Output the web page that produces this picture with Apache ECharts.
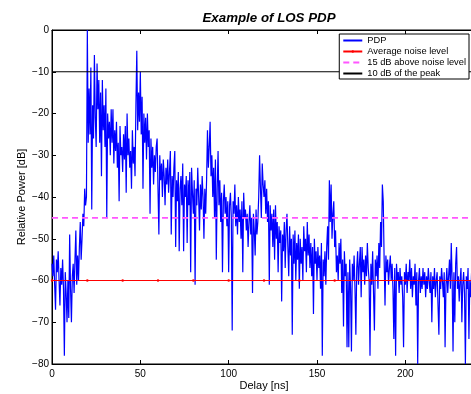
<!DOCTYPE html>
<html>
<head>
<meta charset="utf-8">
<script src="https://cdn.jsdelivr.net/npm/echarts@6/dist/echarts.min.js"></script>
<style>
  html, body { margin: 0; padding: 0; background: #fff; }
  #main { width: 471px; height: 394px; }
</style>
</head>
<body>
<div id="main"></div>
<script>
  // PDP samples every 0.5 ns starting at 0 ns, one row = 10 ns
  var stepNs = 0.5;
  var pdpDb = [
    -56, -59, -54, -61, -67, -55, -58, -53, -60, -66, -57, -61, -55, -62, -78, -58, -63, -70, -60, -69,
    -49, -62, -70, -59, -56, -63, -55, -48, -61, -54, -60, -52, -46, -55, -50, -44, -47, -38, -42, -40,
    0, -27, -14, -25, -9, -43, -18, -26, -6, -21, -28, -8, -19, -12, -27, -15, -35, -12, -24, -18,
    -28, -14, -45, -20, -26, -22, -30, -19, -27, -19, -32, -24, -29, -22, -33, -27, -41, -23, -30, -28,
    -34, -25, -31, -23, -39, -20, -30, -26, -33, -29, -38, -24, -32, -28, -35, -18, -5, -24, -15, -22,
    -10, -25, -16, -38, -20, -27, -21, -31, -20, -28, -24, -44, -26, -33, -28, -37, -30, -34, -28, -26,
    -38, -49, -30, -36, -32, -40, -31, -35, -42, -33, -37, -31, -39, -34, -29, -49, -35, -40, -33, -29,
    -52, -36, -41, -34, -53, -38, -35, -42, -32, -53, -37, -40, -35, -51, -36, -42, -34, -58, -33, -39,
    -44, -36, -61, -38, -42, -33, -40, -48, -37, -43, -35, -40, -50, -38, -44, -36, -24, -33, -28, -22,
    -35, -30, -40, -33, -45, -31, -55, -38, -29, -42, -36, -46, -39, -58, -41, -37, -44, -40, -47, -41,
    -58, -42, -39, -45, -72, -41, -44, -37, -47, -42, -49, -40, -46, -43, -50, -41, -58, -39, -45, -43,
    -48, -44, -52, -46, -42, -49, -45, -63, -44, -48, -54, -43, -49, -46, -40, -30, -38, -45, -32, -37,
    -40, -36, -44, -38, -46, -41, -61, -42, -48, -44, -52, -43, -55, -42, -50, -46, -58, -47, -51, -48,
    -65, -49, -53, -46, -57, -48, -44, -52, -59, -47, -54, -50, -73, -49, -56, -48, -60, -51, -55, -49,
    -62, -50, -56, -52, -60, -47, -53, -50, -58, -46, -54, -49, -57, -51, -59, -52, -68, -50, -56, -53,
    -60, -52, -57, -54, -62, -51, -78, -55, -59, -53, -61, -52, -47, -55, -36, -46, -37, -50, -44, -41,
    -52, -48, -58, -54, -60, -51, -56, -50, -63, -55, -71, -53, -59, -56, -76, -58, -76, -55, -62, -77,
    -56, -60, -54, -62, -73, -57, -53, -61, -56, -52, -64, -52, -58, -55, -61, -54, -59, -51, -57, -60,
    -78, -56, -61, -53, -63, -72, -55, -59, -54, -62, -51, -57, -46, -52, -37, -41, -55, -66, -54, -58,
    -55, -61, -57, -54, -60, -56, -62, -74, -57, -78, -56, -60, -58, -63, -57, -61, -59, -64, -76, -58,
    -61, -56, -63, -58, -60, -55, -62, -57, -64, -59, -61, -56, -66, -58, -80, -60, -57, -63, -59, -62,
    -57, -61, -58, -64, -59, -62, -57, -60, -63, -58, -70, -59, -62, -57, -64, -60, -58, -66, -73, -59,
    -62, -57, -60, -64, -58, -76, -61, -57, -63, -59, -55, -62, -51, -60, -77, -58, -70, -56, -52, -62,
    -59, -65, -60, -57, -70, -61, -58, -63, -80, -59, -62, -57, -74, -60, -64, -58, -61, -59, -62, -60,
    -60
  ];
  var noiseLevelDb = -60;
  var thresholdDb = -45;   // 15 dB above noise
  var peakRefDb = -10;     // 10 dB below the peak
  var noiseMarkNs = [0, 20, 40, 60, 80, 100, 120, 140, 160, 180, 200, 220, 240];
  var lineEndsNs = [0, 240];
  var yTicks = [-80, -70, -60, -50, -40, -30, -20, -10, 0];

  var font = 'Liberation Sans, Arial, sans-serif';
  var chart = echarts.init(document.getElementById('main'));

  function flat(xs, y) {
    return xs.map(function (x) { return [x, y]; });
  }
  function minus(v) {
    return String(v).replace('-', '\u2212');
  }

  chart.setOption({
    animation: false,
    title: {
      text: 'Example of LOS PDP',
      left: 264, top: 7, textAlign: 'center',
      textStyle: {fontFamily: font, fontSize: 13.3, fontWeight: 'bold', fontStyle: 'italic', color: '#000'}
    },
    grid: {
      left: 52, top: 30, right: -5, bottom: 30, outerBoundsMode: 'none',
      show: true, borderColor: '#000', borderWidth: 1
    },
    legend: {
      right: 2, top: 34, orient: 'vertical',
      backgroundColor: '#fff', borderColor: '#000', borderWidth: 1,
      padding: [1, 3, 0, 3], itemGap: 0, itemWidth: 19, itemHeight: 3,
      itemStyle: {opacity: 0},
      textStyle: {fontFamily: font, fontSize: 9.3, color: '#000', lineHeight: 11},
      data: [
        'PDP',
        {name: 'Average noise level', itemStyle: {opacity: 1}},
        '15 dB above noise level',
        '10 dB of the peak'
      ]
    },
    xAxis: [{
      type: 'value', min: 0, max: 240, interval: 50,
      name: 'Delay [ns]', nameLocation: 'middle', nameGap: 16, nameMoveOverlap: false,
      nameTextStyle: {fontFamily: font, fontSize: 11, color: '#000'},
      axisLine: {onZero: false, lineStyle: {color: '#000'}},
      axisTick: {inside: true, length: 4, lineStyle: {color: '#000'}},
      axisLabel: {fontFamily: font, fontSize: 10, color: '#000', margin: 5, showMaxLabel: false},
      splitLine: {show: false}
    }, {
      type: 'value', min: 0, max: 240, interval: 50, position: 'top',
      axisLine: {onZero: false, lineStyle: {color: '#000'}},
      axisTick: {inside: true, length: 4, lineStyle: {color: '#000'}},
      axisLabel: {show: false}, splitLine: {show: false}
    }],
    yAxis: {
      type: 'value', min: yTicks[0], max: yTicks[yTicks.length - 1], interval: 10,
      name: 'Relative Power [dB]', nameLocation: 'middle', nameGap: 25, nameMoveOverlap: false,
      nameTextStyle: {fontFamily: font, fontSize: 11, color: '#000'},
      axisLine: {onZero: false, lineStyle: {color: '#000'}},
      axisTick: {inside: true, length: 4, lineStyle: {color: '#000'}},
      axisLabel: {fontFamily: font, fontSize: 10, color: '#000', margin: 3, formatter: minus},
      splitLine: {show: false}
    },
    series: [
      {
        name: 'PDP', type: 'line', showSymbol: false, symbol: 'none',
        color: '#0000ff', lineStyle: {color: '#0000ff', width: 1.2},
        data: pdpDb.map(function (v, i) { return [i * stepNs, v]; })
      },
      {
        name: 'Average noise level', type: 'line', symbol: 'circle', symbolSize: 2.5,
        color: '#ff0000', lineStyle: {color: '#ff0000', width: 1},
        data: flat(noiseMarkNs, noiseLevelDb)
      },
      {
        name: '15 dB above noise level', type: 'line', symbol: 'none',
        color: '#ff55ff', lineStyle: {color: '#ff55ff', width: 1.6, type: [6, 4]},
        data: flat(lineEndsNs, thresholdDb)
      },
      {
        name: '10 dB of the peak', type: 'line', symbol: 'none',
        color: '#000', lineStyle: {color: '#000', width: 1},
        data: flat(lineEndsNs, peakRefDb)
      }
    ]
  });
</script>
</body>
</html>
